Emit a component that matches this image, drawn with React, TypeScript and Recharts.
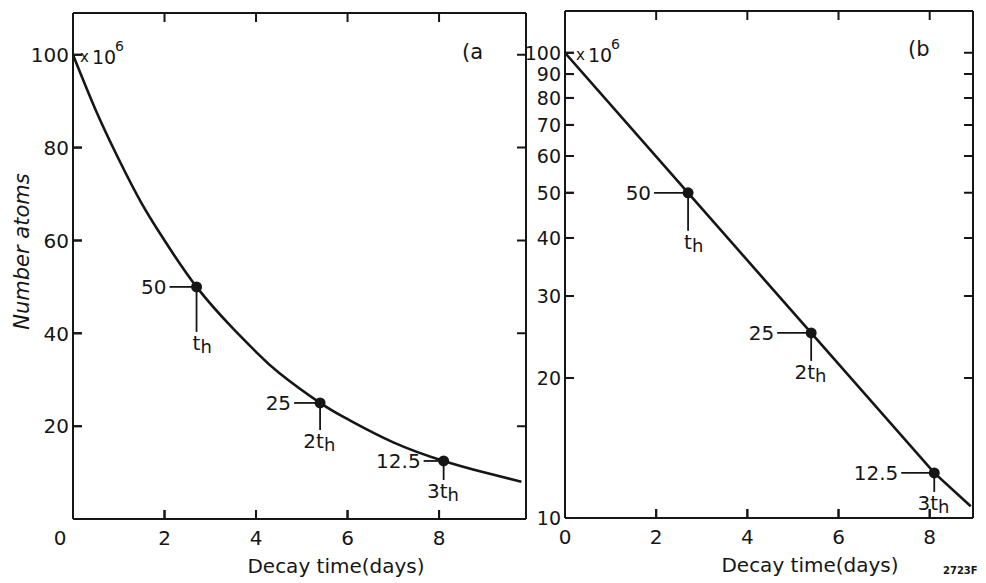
import { ComposedChart, Line, Scatter, XAxis, YAxis, ReferenceLine } from "recharts";

// (a) linear panel: curve values (x10^6 atoms)
const curveDays = [0, 0.5, 1, 1.5, 2, 2.7, 3.5, 4, 4.5, 5.4, 6, 7, 8.1, 9, 9.8];
const curveAtoms = [100, 88, 77.5, 68, 60, 50, 41, 36, 31.5, 25, 21.5, 16.5, 12.5, 10, 8];

// (b) semi-log panel: straight line
const logDays = [0, 2.7, 5.4, 8.1, 8.9];
const logAtoms = [100, 50, 25, 12.5, 10.6];

// half-life marks
const halfDays = [2.7, 5.4, 8.1];
const halfAtoms = [50, 25, 12.5];
const halfLabels = ["50", "25", "12.5"];
const halfMultiples = ["", "2", "3"];

const xTicks = [0, 2, 4, 6, 8];
const linTicks = [20, 40, 60, 80, 100];
const logTicks = [10, 20, 30, 40, 50, 60, 70, 80, 90, 100];

const curveData = curveDays.map((t, i) => ({ t, v: curveAtoms[i] }));
const logData = logDays.map((t, i) => ({ t, v: logAtoms[i] }));
const halfData = halfDays.map((t, i) => ({ t, v: halfAtoms[i], i, label: halfLabels[i], mult: halfMultiples[i] }));

const INK = "#161616";
const FONT = "'DejaVu Sans', sans-serif";
const TICK_LEN = 9;

// leader lengths (px) for the half-life marks
const leadersA = [{ h: 27, v: 45 }, { h: 26, v: 27 }, { h: 20, v: 19 }];
const leadersB = [{ h: 34, v: 38 }, { h: 34, v: 28 }, { h: 33, v: 19 }];

// y tick: inward mark + label
function leftTick(fontSize: number) {
  return (props: any) => {
    const x = Number(props.x);
    const y = Number(props.y);
    return (
      <g>
        <path d={`M${x},${y}h${TICK_LEN}`} stroke={INK} strokeWidth={2} fill="none" />
        <text x={x - 4} y={y} dy="0.36em" textAnchor="end" fontSize={fontSize} fontFamily={FONT} fill={INK}>
          {props.payload.value}
        </text>
      </g>
    );
  };
}

// x tick: inward mark + label
function bottomTick(zeroShift: number) {
  return (props: any) => {
    const x = Number(props.x);
    const y = Number(props.y);
    const v = props.payload.value;
    return (
      <g>
        {v > 0 ? <path d={`M${x},${y}v${-TICK_LEN}`} stroke={INK} strokeWidth={2} fill="none" /> : null}
        <text x={x + (v === 0 ? zeroShift : 0)} y={y + 19} dy="0.36em" textAnchor="middle" fontSize={20} fontFamily={FONT} fill={INK}>
          {v}
        </text>
      </g>
    );
  };
}

// full reference line, dashed so only a short inward tick shows at each end
function edgeTicks(props: any) {
  const len = Math.hypot(Number(props.x2) - Number(props.x1), Number(props.y2) - Number(props.y1));
  return (
    <line
      x1={props.x1}
      y1={props.y1}
      x2={props.x2}
      y2={props.y2}
      stroke={INK}
      strokeWidth={2}
      strokeDasharray={`${TICK_LEN} ${Math.max(len - 2 * TICK_LEN, 0)} ${TICK_LEN} ${len}`}
    />
  );
}

function halfMark(leaders: { h: number; v: number }[]) {
  return (props: any) => {
    const { cx, cy, payload } = props;
    const L = leaders[payload.i];
    const ty = cy + L.v + 18;
    return (
      <g>
        <line x1={cx - L.h} y1={cy} x2={cx} y2={cy} stroke={INK} strokeWidth={1.8} />
        <line x1={cx} y1={cy} x2={cx} y2={cy + L.v} stroke={INK} strokeWidth={1.8} />
        <circle cx={cx} cy={cy} r={5.5} fill={INK} />
        <text x={cx - L.h - 3} y={cy} dy="0.36em" textAnchor="end" fontSize={20} fontFamily={FONT} fill={INK}>
          {payload.label}
        </text>
        {payload.mult ? (
          <text x={cx - 4} y={ty} textAnchor="end" fontSize={20} fontFamily={FONT} fill={INK}>
            {payload.mult}
          </text>
        ) : null}
        <text x={cx - 4} y={ty} fontSize={20} fontFamily={FONT} fill={INK}>
          t
          <tspan dy={3} fontSize={18}>
            h
          </tspan>
        </text>
      </g>
    );
  };
}

// plain html text placed by baseline
function Note(p: { x: number; base: number; size: number; text: string; bold?: boolean; italic?: boolean; center?: boolean }) {
  const w = 260;
  return (
    <div
      style={{
        position: "absolute",
        left: p.center ? p.x - w / 2 : p.x,
        top: p.base - 0.846 * p.size,
        width: p.center ? w : undefined,
        textAlign: p.center ? "center" : "left",
        fontFamily: FONT,
        fontSize: p.size,
        lineHeight: `${p.size}px`,
        fontWeight: p.bold ? "bold" : "normal",
        fontStyle: p.italic ? "italic" : "normal",
        color: INK,
        whiteSpace: "nowrap",
        pointerEvents: "none",
      }}
    >
      {p.text}
    </div>
  );
}

const frame = { stroke: INK, strokeWidth: 2 };

export default function App() {
  return (
    <div style={{ position: "absolute", left: 0, top: 0, width: 986, height: 583, background: "#fff", overflow: "hidden" }}>
      <div style={{ position: "absolute", left: 0, top: 0 }}>
        <ComposedChart width={540} height={583} margin={{ top: 12, right: 13, left: 0, bottom: 0 }}>
          <XAxis dataKey="t" type="number" domain={[0, 9.9]} ticks={xTicks} interval={0} allowDataOverflow height={64} tickSize={0} tickMargin={0} tickLine={false} axisLine={frame} tick={bottomTick(-13)} />
          <XAxis xAxisId="top" orientation="top" type="number" domain={[0, 9.9]} allowDataOverflow height={1} tickLine={false} tick={false} axisLine={frame} />
          <YAxis type="number" domain={[0, 109]} ticks={linTicks} interval={0} allowDataOverflow width={73} tickSize={0} tickMargin={0} tickLine={false} axisLine={frame} tick={leftTick(20)} />
          <YAxis yAxisId="right" orientation="right" type="number" domain={[0, 109]} allowDataOverflow width={1} tickLine={false} tick={false} axisLine={frame} />
          <Line data={curveData} dataKey="v" type="natural" stroke={INK} strokeWidth={2.6} dot={false} isAnimationActive={false} />
          <Scatter data={halfData} dataKey="v" shape={halfMark(leadersA)} isAnimationActive={false} />
          {xTicks.filter((t) => t > 0).map((t) => (
            <ReferenceLine key={`xa${t}`} x={t} ifOverflow="visible" zIndex={1000} shape={edgeTicks} />
          ))}
          {linTicks.map((v) => (
            <ReferenceLine key={`ya${v}`} y={v} ifOverflow="visible" zIndex={1000} shape={edgeTicks} />
          ))}
        </ComposedChart>
      </div>
      <div style={{ position: "absolute", left: 500, top: 0 }}>
        <ComposedChart width={486} height={583} margin={{ top: 10, right: 12, left: 0, bottom: 0 }}>
          <XAxis dataKey="t" type="number" domain={[0, 8.95]} ticks={xTicks} interval={0} allowDataOverflow height={65} tickSize={0} tickMargin={0} tickLine={false} axisLine={frame} tick={bottomTick(0)} />
          <XAxis xAxisId="top" orientation="top" type="number" domain={[0, 8.95]} allowDataOverflow height={1} tickLine={false} tick={false} axisLine={frame} />
          <YAxis type="number" scale="log" domain={[10, 123]} ticks={logTicks} interval={0} allowDataOverflow width={65} tickSize={0} tickMargin={0} tickLine={false} axisLine={frame} tick={leftTick(19)} />
          <YAxis yAxisId="right" orientation="right" type="number" scale="log" domain={[10, 123]} allowDataOverflow width={1} tickLine={false} tick={false} axisLine={frame} />
          <Line data={logData} dataKey="v" type="linear" stroke={INK} strokeWidth={2.6} dot={false} isAnimationActive={false} />
          <Scatter data={halfData} dataKey="v" shape={halfMark(leadersB)} isAnimationActive={false} />
          {xTicks.filter((t) => t > 0).map((t) => (
            <ReferenceLine key={`xb${t}`} x={t} ifOverflow="visible" zIndex={1000} shape={edgeTicks} />
          ))}
          {logTicks.filter((v) => v > 10).map((v) => (
            <ReferenceLine key={`yb${v}`} y={v} ifOverflow="visible" zIndex={1000} shape={edgeTicks} />
          ))}
        </ComposedChart>
      </div>
      <div
        style={{
          position: "absolute",
          left: 22 - 100,
          top: 251 - 10.5,
          width: 200,
          height: 21,
          textAlign: "center",
          fontFamily: FONT,
          fontSize: 21,
          lineHeight: "21px",
          fontStyle: "italic",
          color: INK,
          whiteSpace: "nowrap",
          transform: "rotate(-90deg)",
          transformOrigin: "50% 50%",
          pointerEvents: "none",
        }}
      >
        Number atoms
      </div>
      <Note x={336} base={573} size={20} text="Decay time(days)" center />
      <Note x={810} base={572} size={20} text="Decay time(days)" center />
      <Note x={80} base={63} size={15} text="x" />
      <Note x={92} base={64} size={19} text="10" />
      <Note x={115} base={51} size={14} text="6" />
      <Note x={576} base={61} size={15} text="x" />
      <Note x={588} base={62} size={19} text="10" />
      <Note x={611} base={49} size={14} text="6" />
      <Note x={462} base={60} size={21} text="(a" />
      <Note x={908} base={57} size={21} text="(b" />
      <Note x={943} base={574} size={10} text="2723F" bold />
    </div>
  );
}
